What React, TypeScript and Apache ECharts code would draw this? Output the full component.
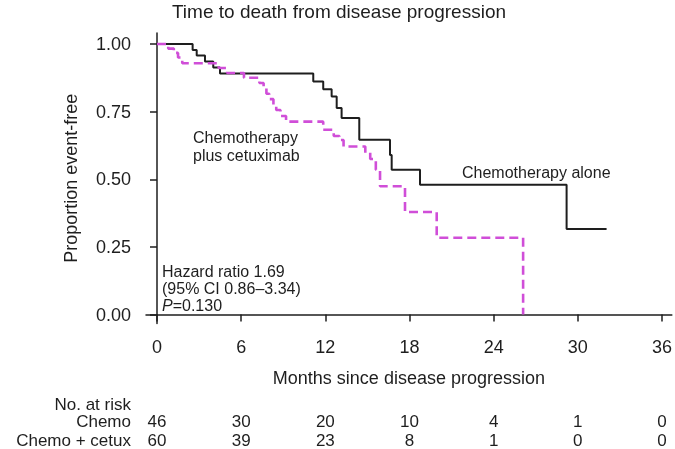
import React, { useEffect, useRef } from "react";
import * as echarts from "echarts";

const titleText = "Time to death from disease progression";
const xAxisName = "Months since disease progression";
const yAxisName = "Proportion event-free";
const xTicks = [0, 6, 12, 18, 24, 30, 36];
const yTicks = [0, 0.25, 0.5, 0.75, 1.0];

const chemoTimes = [0, 2.54, 2.83, 3.42, 4.01, 4.49, 11.14, 11.85, 12.45, 12.81, 13.16, 14.42, 16.61, 16.73, 18.75, 29.2, 32.05];
const chemoSurv = [1.0, 0.978, 0.957, 0.935, 0.913, 0.891, 0.861, 0.833, 0.806, 0.763, 0.726, 0.646, 0.59, 0.535, 0.48, 0.316, 0.316];

const cetuxTimes = [0, 0.8, 1.2, 1.5, 1.8, 4.4, 5.0, 6.2, 7.3, 7.6, 7.8, 8.0, 8.3, 8.5, 8.8, 9.2, 11.85, 12.6, 13.0, 13.3, 14.85, 15.2, 15.6, 15.9, 17.68, 19.94, 26.1];
const cetuxSurv = [1.0, 0.983, 0.967, 0.95, 0.929, 0.911, 0.893, 0.875, 0.856, 0.836, 0.816, 0.796, 0.776, 0.756, 0.734, 0.713, 0.683, 0.66, 0.645, 0.621, 0.598, 0.575, 0.535, 0.474, 0.379, 0.284, 0.0];

const riskLabels = ["Chemo", "Chemo + cetux"];
const riskChemo = [46, 30, 20, 10, 4, 1, 0];
const riskCetux = [60, 39, 23, 8, 1, 0, 0];

const FONT = "'Liberation Sans', Arial, Helvetica, sans-serif";
const INK = "#1e1e1e";
const MAGENTA = "#d04ed8";

const X_MIN = -0.784;
const X_MAX = 36.7;

function riskAxis(label: string, values: number[], offset: number) {
  return {
    type: "value",
    gridIndex: 0,
    position: "bottom",
    offset,
    min: X_MIN,
    max: X_MAX,
    axisLine: { show: false },
    axisTick: { show: false },
    splitLine: { show: false },
    axisLabel: {
      customValues: xTicks,
      formatter: (v: number) => String(values[xTicks.indexOf(Math.round(v))]),
      margin: 0,
      verticalAlign: "middle",
      fontSize: 17,
      fontFamily: FONT,
      color: INK,
    },
    name: label,
    nameLocation: "start",
    nameGap: 15,
    nameTextStyle: { fontSize: 17, fontFamily: FONT, color: INK, verticalAlign: "middle", align: "right" },
  };
}

export default function App() {
  const ref = useRef<HTMLDivElement>(null);
  useEffect(() => {
    const chart = echarts.init(ref.current!, null, { renderer: "svg" });
    const txt = (text: string, x: number, y: number, size: number, align = "left", extra: any = {}) => ({
      type: "text",
      x,
      y,
      style: {
        text,
        fill: INK,
        fontSize: size,
        fontFamily: FONT,
        align,
        textAlign: align,
        verticalAlign: "middle",
        textVerticalAlign: "middle",
        ...extra,
      },
    });
    chart.setOption({
      animation: false,
      grid: { left: 146, top: 33, width: 526, height: 291, containLabel: false },
      xAxis: [
        {
          type: "value",
          min: X_MIN,
          max: X_MAX,
          axisLine: { show: true, lineStyle: { color: INK, width: 1.5 } },
          axisTick: { show: true, customValues: xTicks, length: 7, lineStyle: { color: INK, width: 1.5 } },
          axisLabel: { customValues: xTicks, fontSize: 18, fontFamily: FONT, color: INK, margin: 14 },
          splitLine: { show: false },
          name: xAxisName,
          nameLocation: "middle",
          nameGap: 54,
          nameTextStyle: { fontSize: 18, fontFamily: FONT, color: INK, verticalAlign: "middle" },
        },
        riskAxis(riskLabels[0], riskChemo, 98),
        riskAxis(riskLabels[1], riskCetux, 117),
      ],
      yAxis: {
        type: "value",
        min: -0.0332,
        max: 1.0406,
        axisLine: { show: true, lineStyle: { color: INK, width: 1.5 } },
        axisTick: { show: true, customValues: yTicks, length: 7, lineStyle: { color: INK, width: 1.5 } },
        axisLabel: {
          customValues: yTicks,
          formatter: (v: number) => v.toFixed(2),
          fontSize: 18,
          fontFamily: FONT,
          color: INK,
          margin: 15,
        },
        splitLine: { show: false },
        name: yAxisName,
        nameLocation: "middle",
        nameGap: 75,
        nameTextStyle: { fontSize: 18, fontFamily: FONT, color: INK, verticalAlign: "middle" },
      },
      series: [
        {
          type: "line",
          name: "Chemotherapy alone",
          step: "end",
          symbol: "none",
          data: chemoTimes.map((t, i) => [t, chemoSurv[i]]),
          lineStyle: { color: INK, width: 2 },
          z: 3,
        },
        {
          type: "line",
          name: "Chemotherapy plus cetuximab",
          step: "end",
          symbol: "none",
          data: cetuxTimes.map((t, i) => [t, cetuxSurv[i]]),
          lineStyle: { color: MAGENTA, width: 2.6, type: [9, 5] },
          z: 4,
        },
      ],
      graphic: [
        txt(titleText, 339, 11, 19, "center"),
        txt("Chemotherapy alone", 462, 172, 16),
        txt("Chemotherapy", 193, 137, 16),
        txt("plus cetuximab", 193, 155, 16),
        txt("Hazard ratio 1.69", 162, 271, 16),
        txt("(95% CI 0.86\u20133.34)", 162, 288, 16),
        txt("{i|P}=0.130", 162, 305, 16, "left", {
          rich: { i: { fontStyle: "italic", fontSize: 16, fontFamily: FONT, fill: INK } },
        }),
        txt("No. at risk", 131, 404, 17, "right"),
      ],
    });
    return () => chart.dispose();
  }, []);
  return <div ref={ref} style={{ position: "fixed", left: 0, top: 0, width: 675, height: 449 }} />;
}
